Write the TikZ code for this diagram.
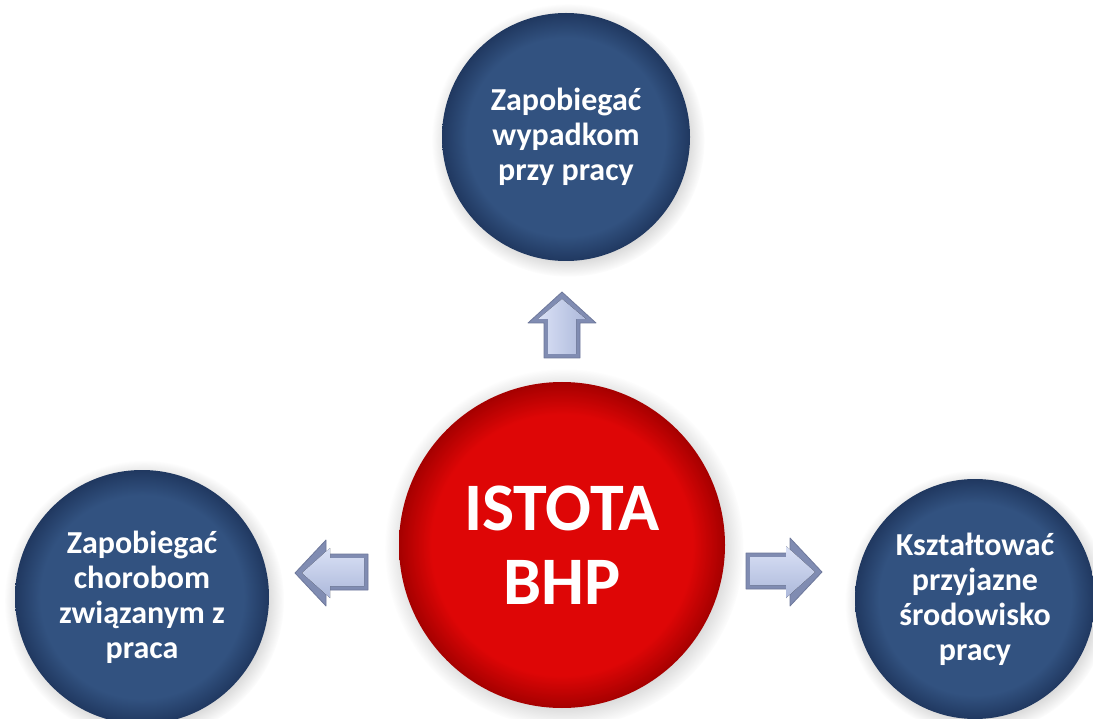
\documentclass[tikz,border=0pt]{standalone}
\usepackage{fontspec}
\setmainfont{Carlito}
\usetikzlibrary{shadows}
\definecolor{bluein}{RGB}{50,82,128}
\definecolor{blueout}{RGB}{32,56,96}
\definecolor{redin}{RGB}{222,6,6}
\definecolor{redout}{RGB}{165,0,0}
\definecolor{arrlight}{RGB}{218,225,246}
\definecolor{arrmid}{RGB}{172,184,218}
\definecolor{arrdark}{RGB}{128,140,178}
\definecolor{arredge}{RGB}{110,120,155}
\pgfdeclareradialshading{blueball}{\pgfpoint{0bp}{0bp}}{color(0bp)=(bluein); color(20bp)=(bluein); color(25bp)=(blueout); color(50bp)=(blueout)}
\pgfdeclareradialshading{redball}{\pgfpoint{0bp}{0bp}}{color(0bp)=(redin); color(20bp)=(redin); color(25bp)=(redout); color(50bp)=(redout)}
\begin{document}
\begin{tikzpicture}[x=1pt,y=-1pt,
  ball/.style={circle, inner sep=0pt, text=white, align=center,
    circular drop shadow={shadow xshift=2pt, shadow yshift=-3pt, opacity=0.35}},
  blueb/.style={ball, shading=blueball, font=\fontsize{32}{35}\selectfont\bfseries},
  redb/.style={ball, shading=redball, font=\fontsize{68}{74}\selectfont\bfseries},
  arrowrim/.style={draw=arredge, line width=0.8pt, line join=round, fill=arrdark},
  arrowfaceV/.style={left color=arrlight, right color=arrmid},
  arrowfaceH/.style={top color=arrlight, bottom color=arrmid}
]
\useasboundingbox (0,0) rectangle (1093,719);
\fill[white] (0,0) rectangle (1093,719);

\node[redb, minimum size=326pt] (c) at (562,545) {ISTOTA\\BHP};
\node[blueb, minimum size=248pt] (t) at (566,137) {Zapobiegać\\wypadkom\\przy pracy};
\node[blueb, minimum size=254pt] (l) at (142,597) {Zapobiegać\\chorobom\\związanym z\\praca};
\node[blueb, minimum size=240pt] (r) at (975,599) {Kształtować\\przyjazne\\środowisko\\pracy};

% up block arrow (c -> t)
\draw[arrowrim]
  (562,292) -- (596,323) -- (580,323) -- (580,358) -- (544,358) -- (544,323) -- (528,323) -- cycle;
\fill[arrowfaceV]
  (562,299) -- (586,319) -- (576,319) -- (576,354) -- (548,354) -- (548,319) -- (538,319) -- cycle;
% left block arrow (c -> l)
\draw[arrowrim]
  (295,573) -- (326,540) -- (326,554) -- (368,554) -- (368,590) -- (326,590) -- (326,606) -- cycle;
\fill[arrowfaceH]
  (302,573) -- (330,548) -- (330,558) -- (364,558) -- (364,586) -- (330,586) -- (330,598) -- cycle;
% right block arrow (c -> r)
\draw[arrowrim]
  (822,572) -- (790,538) -- (790,553) -- (746,553) -- (746,589) -- (790,589) -- (790,606) -- cycle;
\fill[arrowfaceH]
  (815,572) -- (786,546) -- (786,557) -- (750,557) -- (750,585) -- (786,585) -- (786,598) -- cycle;
\end{tikzpicture}
\end{document}
